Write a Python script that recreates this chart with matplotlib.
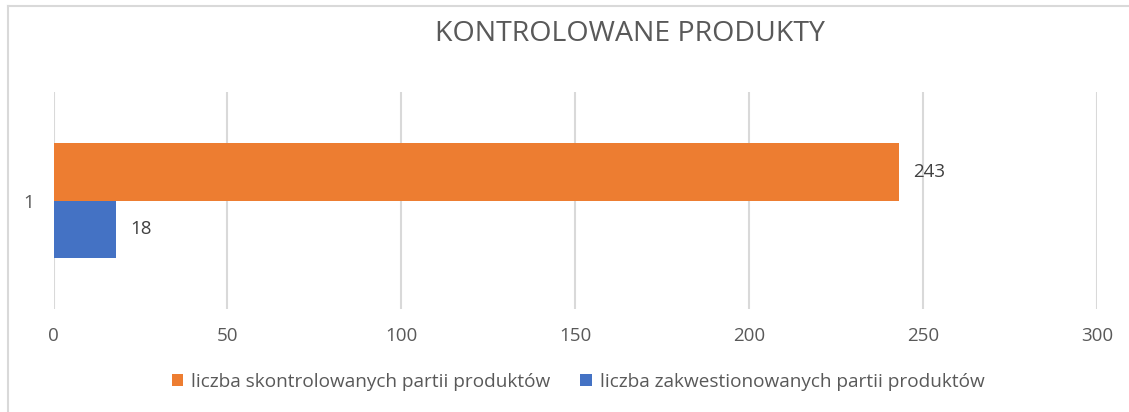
import matplotlib
matplotlib.use("Agg")
import matplotlib.pyplot as plt
from matplotlib.lines import Line2D

plt.rcParams['font.family'] = ['Open Sans', 'DejaVu Sans']

title = "KONTROLOWANE PRODUKTY"
categories = ["1"]
series_names = ["liczba skontrolowanych partii produktów",
                "liczba zakwestionowanych partii produktów"]
series_values = [[243], [18]]
colors = ["#ED7D31", "#4472C4"]
xticks = [0, 50, 100, 150, 200, 250, 300]

text_color = "#595959"
grid_color = "#D9D9D9"
fs = 13.5

fig = plt.figure(figsize=(11.29, 4.12), dpi=100)
ax = fig.add_axes([53.5 / 1129, 1 - 309 / 412, (1097 - 53.5) / 1129, (309 - 92) / 412])

bar_h = 0.263
offsets = [bar_h / 2, -bar_h / 2]
for i, (name, vals) in enumerate(zip(series_names, series_values)):
    ypos = [j + 1 + offsets[i] for j in range(len(categories))]
    bars = ax.barh(ypos, vals, height=bar_h, color=colors[i], label=name, zorder=3)
    for b, v in zip(bars, vals):
        ax.text(b.get_width() + 4, b.get_y() + b.get_height() / 2, str(v),
                va='center', ha='left', fontsize=fs, color="#404040")

ax.set_ylim(0.5, len(categories) + 0.5)
ax.set_xlim(0, 300)
ax.set_xticks(xticks)
ax.set_xticklabels([str(t) for t in xticks])
ax.set_yticks([j + 1 for j in range(len(categories))])
ax.set_yticklabels(categories)
ax.tick_params(axis='x', length=0, pad=13, labelsize=fs, labelcolor=text_color)
ax.tick_params(axis='y', length=0, pad=14, labelsize=fs, labelcolor=text_color)
ax.grid(axis='x', color=grid_color, linewidth=1.5, zorder=0)
for s in ax.spines.values():
    s.set_visible(False)

fig.text(630 / 1129, 1 - 34 / 412, title, ha='center', va='center',
         fontsize=20.5, color=text_color)

# frame lines (top and left)
fig.add_artist(Line2D([8 / 1129, 1], [1 - 6 / 412, 1 - 6 / 412],
                      transform=fig.transFigure, color=grid_color, linewidth=1.5))
fig.add_artist(Line2D([8 / 1129, 8 / 1129], [0, 1 - 6 / 412],
                      transform=fig.transFigure, color=grid_color, linewidth=1.5))

handles, labels = ax.get_legend_handles_labels()
fig.legend(handles, labels, loc='center', bbox_to_anchor=(578 / 1129, 1 - 382 / 412),
           ncol=2, frameon=False, fontsize=13.7, labelcolor=text_color,
           handlelength=0.6, handleheight=0.6, handletextpad=0.4, columnspacing=1.6)

fig.savefig("out.png", dpi=100)
